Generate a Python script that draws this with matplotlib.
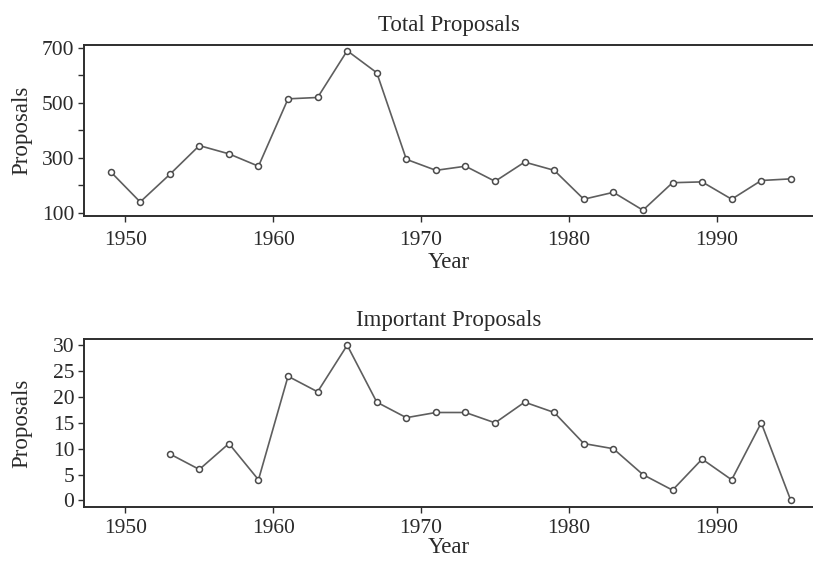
import matplotlib
matplotlib.use("Agg")
import matplotlib.pyplot as plt
from matplotlib.ticker import FixedLocator

plt.rcParams['font.family'] = ['Liberation Serif', 'DejaVu Serif']

total_years = [1949, 1951, 1953, 1955, 1957, 1959, 1961, 1963, 1965, 1967, 1969, 1971,
               1973, 1975, 1977, 1979, 1981, 1983, 1985, 1987, 1989, 1991, 1993, 1995]
total_proposals = [250, 140, 240, 345, 315, 270, 515, 520, 690, 610, 295, 255,
                   270, 215, 285, 255, 150, 175, 110, 210, 213, 150, 218, 224]

important_years = [1953, 1955, 1957, 1959, 1961, 1963, 1965, 1967, 1969, 1971, 1973,
                   1975, 1977, 1979, 1981, 1983, 1985, 1987, 1989, 1991, 1993, 1995]
important_proposals = [9, 6, 11, 4, 24, 21, 30, 19, 16, 17, 17,
                       15, 19, 17, 11, 10, 5, 2, 8, 4, 15, 0]

x_ticks = [1950, 1960, 1970, 1980, 1990]
total_yticks = [100, 300, 500, 700]
total_minor = [200, 400, 600]
important_yticks = [0, 5, 10, 15, 20, 25, 30]

line_color = '#5e5e5e'
spine_color = '#2e2e2e'
text_color = '#2a2a2a'
fs_tick = 15.5
fs_label = 16.5

fig = plt.figure(figsize=(8.13, 5.62), dpi=100)
ax1 = fig.add_axes([0.1033, 0.6157, 0.8967, 0.3043])
ax2 = fig.add_axes([0.1033, 0.0984, 0.8967, 0.2984])


def style(ax, xpad, labelpad):
    for side in ('left', 'bottom', 'top'):
        ax.spines[side].set_color(spine_color)
        ax.spines[side].set_linewidth(1.4)
    ax.spines['right'].set_visible(False)
    ax.tick_params(axis='both', which='both', direction='out', color=spine_color,
                   labelsize=fs_tick, labelcolor=text_color)
    ax.tick_params(axis='x', which='major', length=4, width=1, pad=xpad)
    ax.tick_params(axis='y', which='both', length=4, width=1, pad=3)
    ax.set_xlim(1947.2, 1996.5)
    ax.set_xticks(x_ticks)
    ax.set_xlabel('Year', fontsize=fs_label, color=text_color, labelpad=labelpad)
    ax.set_ylabel('Proposals', fontsize=fs_label, color=text_color)
    ax.yaxis.set_label_coords(-0.071, 0.5)


ax1.plot(total_years, total_proposals, color=line_color, linewidth=1.2,
         marker='o', markersize=4.3, markerfacecolor='white',
         markeredgecolor='#4a4a4a', markeredgewidth=1.1)
style(ax1, xpad=7, labelpad=1)
ax1.set_ylim(89, 711)
ax1.set_yticks(total_yticks)
ax1.yaxis.set_minor_locator(FixedLocator(total_minor))
ax1.set_title('Total Proposals', fontsize=fs_label, color=text_color, pad=10)

ax2.plot(important_years, important_proposals, color=line_color, linewidth=1.2,
         marker='o', markersize=4.3, markerfacecolor='white',
         markeredgecolor='#4a4a4a', markeredgewidth=1.1)
style(ax2, xpad=5, labelpad=-1)
ax2.set_ylim(-1.2, 31.2)
ax2.set_yticks(important_yticks)
ax2.set_title('Important Proposals', fontsize=fs_label, color=text_color, pad=9)

fig.savefig('out.png', dpi=100)
